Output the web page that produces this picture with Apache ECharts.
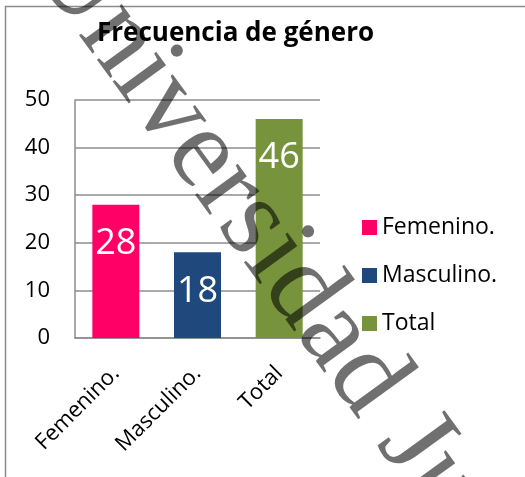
<!DOCTYPE html>
<html>
<head>
<meta charset="utf-8">
<script src="https://cdn.jsdelivr.net/npm/echarts@6/dist/echarts.min.js"></script>
<style>
  html, body { margin: 0; padding: 0; background: #fff; }
  #chart { width: 525px; height: 477px; }
</style>
</head>
<body>
<div id="chart"></div>
<script>
"use strict";
var categories = ["Femenino.", "Masculino.", "Total"];
var values = [28, 18, 46];
var barColors = ["#FF0066", "#1F497D", "#77933C"];
var yTicks = [0, 10, 20, 30, 40, 50];

var chart = echarts.init(document.getElementById("chart"));
var font = "'Open Sans', Lato, sans-serif";

// one series per category so the legend gets one entry each
var series = categories.map(function (name, i) {
    return {
        name: name,
        type: "bar",
        barWidth: 47,
        barGap: "-100%",
        itemStyle: { color: barColors[i] },
        label: {
            show: true,
            position: "insideTop",
            distance: 21,
            color: "#fff",
            fontFamily: font,
            fontSize: 36
        },
        data: categories.map(function (c, j) {
            return j === i ? values[i] : "-";
        })
    };
});

var options = {
    animation: false,
    title: {
        text: "Frecuencia de género",
        left: 97,
        top: 21,
        padding: 0,
        textStyle: {
            fontFamily: font,
            fontWeight: "bold",
            fontSize: 26,
            color: "#000"
        }
    },
    legend: {
        orient: "vertical",
        left: 362,
        top: 216,
        padding: 0,
        itemWidth: 15,
        itemHeight: 15,
        itemGap: 25,
        icon: "rect",
        textStyle: { fontFamily: font, fontSize: 23, color: "#000" },
        data: categories
    },
    grid: {
        left: 75,
        right: 205,
        top: 100,
        bottom: 139
    },
    xAxis: {
        type: "category",
        data: categories,
        axisTick: { show: false },
        axisLine: { lineStyle: { color: "#8c8c8c", width: 1.5 } },
        axisLabel: {
            rotate: 45,
            margin: 32,
            color: "#000",
            fontFamily: font,
            fontSize: 22
        }
    },
    yAxis: {
        type: "value",
        min: yTicks[0],
        max: yTicks[yTicks.length - 1],
        interval: 10,
        axisLine: { show: true, lineStyle: { color: "#8c8c8c", width: 1.5 } },
        axisTick: { show: false },
        splitLine: { lineStyle: { color: "#8c8c8c", width: 1.5 } },
        axisLabel: {
            margin: 25,
            color: "#000",
            fontFamily: font,
            fontSize: 22
        }
    },
    graphic: [
        {
            // chart frame (cropped on the right and bottom)
            type: "rect",
            silent: true,
            shape: { x: 5.5, y: 6.5, width: 700, height: 700 },
            style: { fill: null, stroke: "#8c8c8c", lineWidth: 1.5 }
        },
        {
            // watermark
            type: "text",
            silent: true,
            z: 100,
            x: 53,
            y: -52,
            rotation: -54 * Math.PI / 180,
            style: {
                text: "Universidad Ju",
                fontFamily: "'Liberation Serif', 'DejaVu Serif', serif",
                fontSize: 115,
                fill: "rgba(0,0,0,0.56)",
                align: "left",
                verticalAlign: "middle"
            }
        }
    ],
    series: series
};

chart.setOption(options);
</script>
</body>
</html>
